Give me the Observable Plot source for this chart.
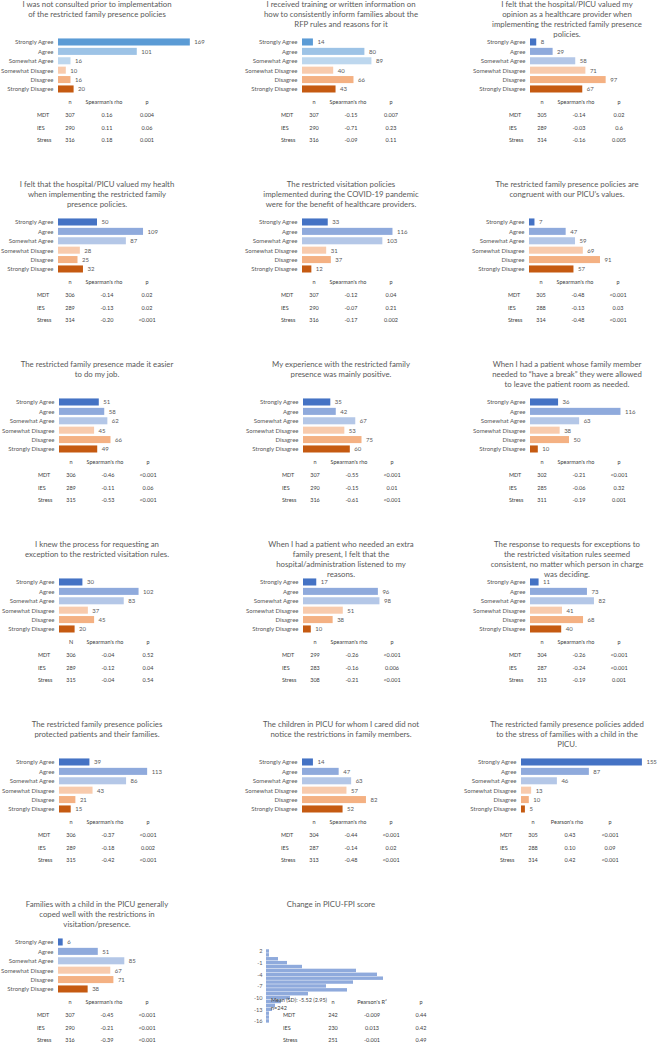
<!DOCTYPE html>
<html><head><meta charset="utf-8">
<script src="https://cdn.jsdelivr.net/npm/d3@7"></script>
<script src="https://cdn.jsdelivr.net/npm/@observablehq/plot@0.6"></script>
<style>
body{margin:0;background:#fff;}
#root{position:relative;width:664px;height:1044px;overflow:hidden;font-family:Lato,"Open Sans",sans-serif;}
.title{position:absolute;text-align:center;color:#595959;font-size:7.8px;line-height:10px;white-space:nowrap;transform:translateX(-50%);}
.cell{position:absolute;font-size:5.5px;color:#404040;white-space:nowrap;transform:translate(-50%,-50%);}
.cell.left{transform:translate(0,-50%);}
.plot{position:absolute;}
</style></head><body><div id="root"></div>
<script>
// ---------------- DATA ----------------
const categories = ["Strongly Agree","Agree","Somewhat Agree","Somewhat Disagree","Disagree","Strongly Disagree"];
const titles = [
  ["I was not consulted prior to implementation","of the restricted family presence policies"],
  ["I received training or written information on","how to consistently inform families about the","RFP rules and reasons for it"],
  ["I felt that the hospital/PICU valued my","opinion as a healthcare provider when","implementing the restricted family presence","policies."],
  ["I felt that the hospital/PICU valued my health","when implementing the restricted family","presence policies."],
  ["The restricted visitation policies","implemented during the COVID-19 pandemic","were for the benefit of healthcare providers."],
  ["The restricted family presence policies are","congruent with our PICU\u2019s values."],
  ["The restricted family presence made it easier","to do my job."],
  ["My experience with the restricted family","presence was mainly positive."],
  ["When I had a patient whose family member","needed to \u201chave a break\u201d they were allowed","to leave the patient room as needed."],
  ["I knew the process for requesting an","exception to the restricted visitation rules."],
  ["When I had a patient who needed an extra","family present, I felt that the","hospital/administration listened to my","reasons."],
  ["The response to requests for exceptions to","the restricted visitation rules seemed","consistent, no matter which person in charge","was deciding."],
  ["The restricted family presence policies","protected patients and their families."],
  ["The children in PICU for whom I cared did not","notice the restrictions in family members."],
  ["The restricted family presence policies added","to the stress of families with a child in the","PICU."],
  ["Families with a child in the PICU generally","coped well with the restrictions in","visitation/presence."]
];
const counts = [
  [169,101,16,10,16,20],
  [14,80,89,40,66,43],
  [8,29,58,71,97,67],
  [50,109,87,28,25,32],
  [33,116,103,31,37,12],
  [7,47,59,69,91,57],
  [51,58,62,45,66,49],
  [35,42,67,53,75,60],
  [36,116,63,38,50,10],
  [30,102,83,37,45,20],
  [17,96,98,51,38,10],
  [11,73,82,41,68,40],
  [39,113,86,43,21,15],
  [14,47,63,57,82,52],
  [155,87,46,13,10,5],
  [6,51,85,67,71,38]
];
const rowLabels = ["MDT","IES","Stress"];
const nHeaders = ["n","n","n","n","n","n","n","n","n","N","n","n","n","n","n","n"];
const rhoHeaders = ["Spearman's rho","Spearman's rho","Spearman's rho","Spearman's rho","Spearman's rho","Spearman's rho","Spearman's rho","Spearman's rho","Spearman's rho","Spearman's rho","Spearman's rho","Spearman's rho","Spearman's rho","Spearman's rho","Pearson's rho","Spearman's rho"];
const tableN = [
  [307,290,316],[307,290,316],[305,289,314],[306,289,314],[307,290,316],[305,288,314],
  [306,289,315],[307,290,316],[302,285,311],[306,289,315],[299,283,308],[304,287,313],
  [306,289,315],[304,287,313],[305,288,314],[307,290,316]
];
const tableRho = [
  ["0.16","0.11","0.18"],["-0.15","-0.71","-0.09"],["-0.14","-0.03","-0.16"],["-0.14","-0.13","-0.20"],
  ["-0.12","-0.07","-0.17"],["-0.48","-0.13","-0.48"],["-0.46","-0.11","-0.53"],["-0.55","-0.15","-0.61"],
  ["-0.21","-0.06","-0.19"],["-0.04","-0.12","-0.04"],["-0.26","-0.16","-0.21"],["-0.26","-0.24","-0.19"],
  ["-0.37","-0.18","-0.42"],["-0.44","-0.14","-0.48"],["0.43","0.10","0.42"],["-0.45","-0.21","-0.39"]
];
const tableP = [
  ["0.004","0.06","0.001"],["0.007","0.23","0.11"],["0.02","0.6","0.005"],["0.02","0.02","<0.001"],
  ["0.04","0.21","0.002"],["<0.001","0.03","<0.001"],["<0.001","0.06","<0.001"],["<0.001","0.01","<0.001"],
  ["<0.001","0.32","0.001"],["0.52","0.04","0.54"],["<0.001","0.006","<0.001"],["<0.001","<0.001","0.001"],
  ["<0.001","0.002","<0.001"],["<0.001","0.02","<0.001"],["<0.001","0.09","<0.001"],["<0.001","<0.001","<0.001"]
];
const histTitle = "Change in PICU-FPI score";
const histBins = [2,1,0,-1,-2,-3,-4,-5,-6,-7,-8,-9,-10,-11,-12,-13,-14,-15,-16];
const histCounts = [1,1,4,7,12,30,37,39,29,20,27,14,8,5,3,2,1,1,1];
const histTicks = [2,-1,-4,-7,-10,-13,-16];
const histNote = ["Mean (SD): -5.52 (2.95)","n=242"];
const fpiHeaders = ["n","Pearson's R\u00b2","p"];
const fpiN = [242,230,251];
const fpiR2 = ["-0.009","0.013","-0.001"];
const fpiP = ["0.44","0.42","0.49"];

// ---------------- LAYOUT / STYLE ----------------
const paletteA = ["#5b9bd5","#9dc3e6","#bdd7ee","#f8cbad","#f4b183","#c55a11"];
const paletteB = ["#4472c4","#8faadc","#b4c7e7","#f8cbad","#f4b183","#c55a11"];
const colX = [0,221,442];
const rowY = [0,180,360,540,720,900];
const titleCx = [97,120,125];
const barStart = [58,81,88,58,81,87,59,82,88,59,82,88,59,81,79,58];
const pxPerUnit = 0.78;
const PW = 221;

const root = document.getElementById("root");
function addDiv(cls, x, y, text){
  const d = document.createElement("div");
  d.className = cls; d.style.left = x+"px"; d.style.top = y+"px"; d.textContent = text;
  root.appendChild(d); return d;
}
function addTitle(lines, cx, top){
  const d = document.createElement("div");
  d.className = "title"; d.style.left = cx+"px"; d.style.top = top+"px";
  d.innerHTML = lines.map(l=>l.replace(/&/g,"&amp;").replace(/</g,"&lt;")).join("<br>");
  root.appendChild(d);
}

counts.forEach((vals, i) => {
  const col = i % 3, row = Math.floor(i / 3);
  const x0 = colX[col], y0 = rowY[row];
  const b = barStart[i];
  addTitle(titles[i], x0 + titleCx[col], y0 - 1);
  const data = categories.map((c, k) => ({cat: c, value: vals[k]}));
  const pal = i < 2 ? paletteA : paletteB;
  const svg = Plot.plot({
    width: PW, height: 67,
    marginLeft: b, marginRight: 0, marginTop: 0, marginBottom: 0,
    style: {fontSize: "6px", fontFamily: "Lato, sans-serif", background: "transparent", overflow: "visible"},
    x: {domain: [0, (PW - b) / pxPerUnit], axis: null},
    y: {domain: categories, range: [4.1, 62.85], padding: 0.25, round: false},
    color: {domain: categories, range: pal},
    marks: [
      Plot.barX(data, {x: "value", y: "cat", fill: "cat"}),
      Plot.text(data, {x: "value", y: "cat", text: d => String(d.value), textAnchor: "start", dx: 4, fill: "#595959"}),
      Plot.axisY({tickSize: 0, tickPadding: 5, color: "#595959", label: null})
    ]
  });
  svg.classList.add("plot");
  svg.style.left = x0 + "px"; svg.style.top = (y0 + 32) + "px";
  root.appendChild(svg);

  // table
  const ty = [102, 114.8, 127.5, 140.2].map(v => v + y0);
  const cxN = x0 + b + 12, cxR = x0 + b + 46, cxP = x0 + b + 89, lx = x0 + b - 21;
  addDiv("cell", cxN, ty[0], nHeaders[i]);
  addDiv("cell", cxR, ty[0], rhoHeaders[i]);
  addDiv("cell", cxP, ty[0], "p");
  rowLabels.forEach((r, k) => {
    addDiv("cell left", lx, ty[k+1], r);
    addDiv("cell", cxN, ty[k+1], String(tableN[i][k]));
    addDiv("cell", cxR + 3, ty[k+1], tableRho[i][k]);
    addDiv("cell", cxP, ty[k+1], tableP[i][k]);
  });
});

// histogram panel
{
  const x0 = 221, y0 = 900;
  addTitle([histTitle], x0 + 110, y0 - 1);
  const hdata = histBins.map((b, k) => ({bin: b, count: histCounts[k]}));
  const svg = Plot.plot({
    width: PW, height: 82,
    marginLeft: 45, marginRight: 0, marginTop: 0, marginBottom: 0,
    style: {fontSize: "5.6px", fontFamily: "Lato, sans-serif", background: "transparent", overflow: "visible"},
    x: {domain: [0, (PW - 45) / 3], axis: null},
    y: {domain: histBins, range: [4.8, 79.1], padding: 0.12, round: false},
    marks: [
      Plot.barX(hdata, {x: "count", y: "bin", fill: "#8faadc"}),
      Plot.axisY({ticks: histTicks, tickSize: 0, tickPadding: 4, color: "#595959", label: null})
    ]
  });
  svg.classList.add("plot");
  svg.style.left = x0 + "px"; svg.style.top = (y0 + 44) + "px";
  root.appendChild(svg);
  addDiv("cell left", x0 + 50, y0 + 100, histNote[0]);
  addDiv("cell left", x0 + 50, y0 + 108, histNote[1]);
  const ty = [102, 114.8, 127.5, 140.2].map(v => v + y0);
  const cx = [x0 + 112, x0 + 151, x0 + 200];
  fpiHeaders.forEach((h, k) => addDiv("cell", cx[k], ty[0], h));
  rowLabels.forEach((r, k) => {
    addDiv("cell left", x0 + 62, ty[k+1], r);
    addDiv("cell", cx[0], ty[k+1], String(fpiN[k]));
    addDiv("cell", cx[1], ty[k+1], fpiR2[k]);
    addDiv("cell", cx[2], ty[k+1], fpiP[k]);
  });
}
</script></body></html>
